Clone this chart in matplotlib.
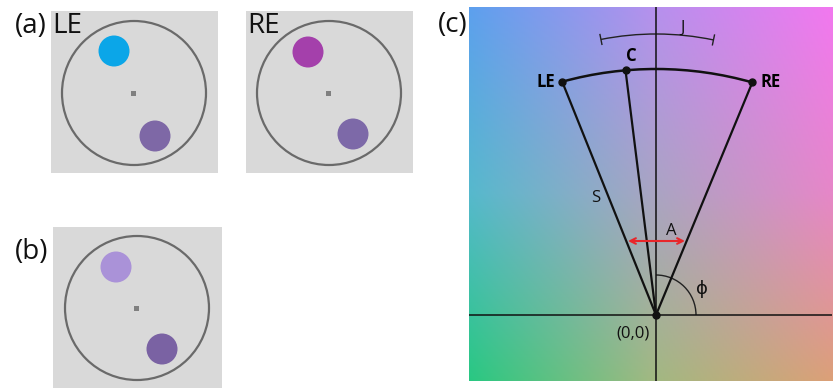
import matplotlib.pyplot as plt
import numpy as np
from matplotlib.patches import Circle, Rectangle, Arc

plt.rcParams['font.family'] = ['Open Sans', 'DejaVu Sans']

# panels (a) LE, (a) RE and (b): gray square, ring, fixation square, two dots (pixel units)
panel_left = [51, 246, 53]
panel_top = [11, 11, 227]
panel_width = [167, 167, 169]
panel_height = [162, 162, 161]
ring_x = [134, 329, 137]
ring_y = [93, 93, 308]
ring_r = 72
upper_dot_x = [114, 308, 116]
upper_dot_y = [51, 52, 267]
upper_dot_color = ['#0ba6e8', '#a440ab', '#aa92d8']
lower_dot_x = [155, 353, 162]
lower_dot_y = [136, 134, 349]
lower_dot_color = ['#7e68a6', '#7d69a8', '#7a62a3']
dot_r = 15.5

panel_labels = ['(a)', 'LE', 'RE', '(b)', '(c)']
label_x = [15, 52, 247, 15, 438]
label_y = [33, 33, 33, 259, 32]

# panel (c), coordinates relative to the origin (0,0), y up
box = (-187, 176, -66, 308)  # left, right, bottom, top
bg_colors = np.array([
    [[92, 160, 238], [180, 145, 238], [242, 120, 240]],
    [[85, 185, 205], [168, 165, 195], [230, 135, 200]],
    [[40, 200, 130], [160, 185, 130], [220, 160, 120]],
]) / 255.0
eye_names = ['LE', 'C', 'RE']
eye_hue = [111.9, 97.1, 67.5]
arc_drop = 106
arc_radius = 352
j_angles = (78.2, 101.3)
j_radius = 281
a_span = (-28, 29)
a_height = 74
phi_radius = 40

fig = plt.figure(figsize=(8.34, 3.88), dpi=100)
ax0 = fig.add_axes([0, 0, 1, 1])
ax0.set_xlim(0, 834)
ax0.set_ylim(388, 0)
ax0.axis('off')

for i in range(3):
    ax0.add_patch(Rectangle((panel_left[i], panel_top[i]), panel_width[i], panel_height[i],
                            facecolor='#d9d9d9', edgecolor='none'))
    ax0.add_patch(Circle((ring_x[i], ring_y[i]), ring_r, fill=False, edgecolor='#6a6a6a', lw=1.6))
    ax0.add_patch(Rectangle((ring_x[i] - 2.5, ring_y[i] - 2.5), 5, 5, facecolor='#808080', edgecolor='none'))
    ax0.add_patch(Circle((upper_dot_x[i], upper_dot_y[i]), dot_r, facecolor=upper_dot_color[i], edgecolor='none'))
    ax0.add_patch(Circle((lower_dot_x[i], lower_dot_y[i]), dot_r, facecolor=lower_dot_color[i], edgecolor='none'))

for t, x, y in zip(panel_labels, label_x, label_y):
    ax0.text(x, y, t, fontsize=20, ha='left', va='baseline', color='#111111')

# panel (c)
x0, x1, y0, y1 = box
ax = fig.add_axes([469 / 834, 7 / 388, (x1 - x0) / 834, (y1 - y0) / 388])
hx = (x1 - x0) / 4
hy = (y1 - y0) / 4
ax.imshow(bg_colors, extent=(x0 - hx, x1 + hx, y0 - hy, y1 + hy), origin='upper',
          interpolation='bilinear', aspect='auto')
ax.set_xlim(x0, x1)
ax.set_ylim(y0, y1)
ax.axis('off')

ax.plot([x0, x1], [0, 0], color='#111111', lw=1.1)
ax.plot([0, 0], [y0, y1], color='#111111', lw=1.1)

# points on the chroma arc
ex, ey = [], []
for h in eye_hue:
    ux, uy = np.cos(np.radians(h)), np.sin(np.radians(h))
    uc = -arc_drop * uy
    t = uc + np.sqrt(uc ** 2 - arc_drop ** 2 + arc_radius ** 2)
    ex.append(t * ux)
    ey.append(t * uy)
    ax.plot([0, t * ux], [0, t * uy], color='#111111', lw=1.6)

a_left = np.degrees(np.arctan2(ey[0] + arc_drop, ex[0]))
a_right = np.degrees(np.arctan2(ey[2] + arc_drop, ex[2]))
ax.add_patch(Arc((0, -arc_drop), 2 * arc_radius, 2 * arc_radius, theta1=a_right, theta2=a_left,
                 color='#111111', lw=1.8))
ax.plot(ex, ey, 'o', color='#111111', markersize=5)
ax.plot(0, 0, 'o', color='#111111', markersize=5)

ax.text(ex[0] - 7, ey[0], eye_names[0], fontsize=12, fontweight='bold', ha='right', va='center')
ax.text(ex[1] + 6, ey[1] + 14, eye_names[1], fontsize=12, fontweight='bold', ha='center', va='center')
ax.text(ex[2] + 8, ey[2], eye_names[2], fontsize=12, fontweight='bold', ha='left', va='center')

# J bracket
ax.add_patch(Arc((0, 0), 2 * j_radius, 2 * j_radius, theta1=j_angles[0], theta2=j_angles[1],
                 color='#222222', lw=1.0))
for a in j_angles:
    c, s = np.cos(np.radians(a)), np.sin(np.radians(a))
    ax.plot([(j_radius - 5) * c, (j_radius + 5) * c], [(j_radius - 5) * s, (j_radius + 5) * s],
            color='#222222', lw=1.0)
ax.text(27, 287, 'J', fontsize=12, ha='center', va='center', color='#111111')

# A arrow
ax.annotate('', xy=(a_span[1], a_height), xytext=(a_span[0], a_height),
            arrowprops=dict(arrowstyle='<->', color='#e8262a', lw=1.5, shrinkA=0, shrinkB=0,
                            mutation_scale=10))
ax.text(15, 84, 'A', fontsize=12, ha='center', va='center', color='#111111')
ax.text(-60, 117, 'S', fontsize=12, ha='center', va='center', color='#111111')

# phi
ax.add_patch(Arc((0, 0), 2 * phi_radius, 2 * phi_radius, theta1=0, theta2=90, color='#222222', lw=1.0))
ax.text(46, 26, 'ϕ', fontsize=13, ha='center', va='center', color='#111111')
ax.text(-23, -18, '(0,0)', fontsize=12, ha='center', va='center', color='#111111')

fig.savefig('out.png', dpi=100)
